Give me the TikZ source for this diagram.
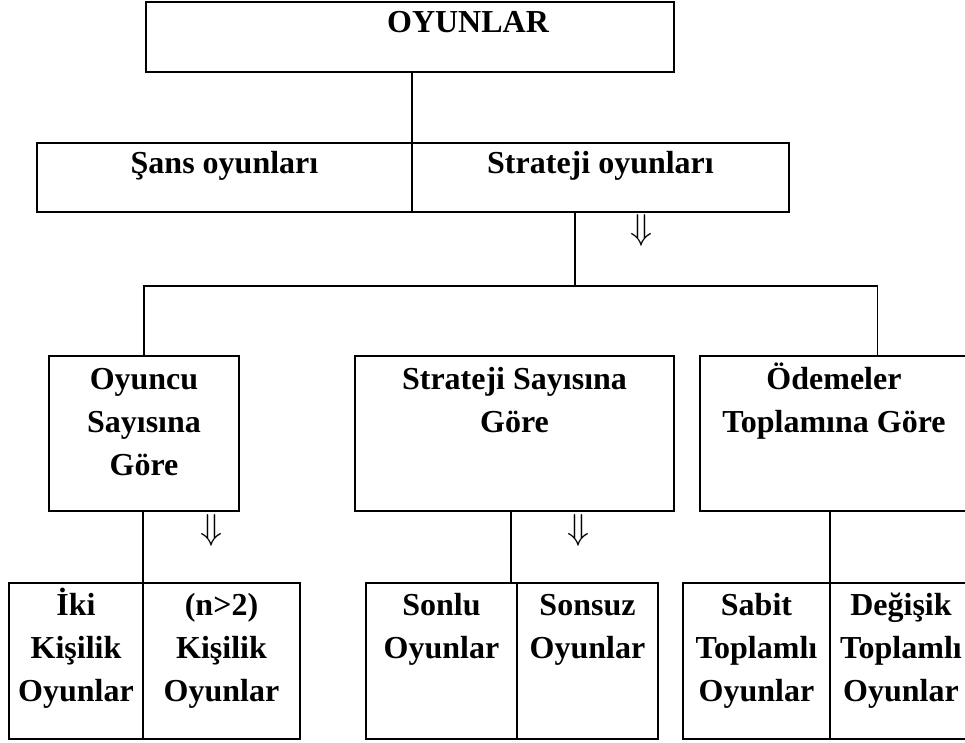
\documentclass[tikz,border=0pt]{standalone}
\usepackage{fontspec}
\setmainfont{Liberation Serif}
\usepackage{tikz}
\newcommand{\ilk}{\rule{0pt}{28pt}}
\newcommand{\asagi}{\resizebox*{!}{32pt}{$\Downarrow$}}

\begin{document}
\begin{tikzpicture}[x=1pt,y=-1pt,
  kutu/.style={draw,line width=2pt,inner sep=0pt,outer sep=0pt},
  yazi/.style={anchor=north,align=center,inner sep=0pt,
    font=\bfseries\fontsize{32}{43}\selectfont},
  ok/.style={inner sep=0pt},
  bag/.style={draw,line width=1.2pt}]
  \useasboundingbox (0,0) rectangle (965,743);
  \clip (0,0) rectangle (965,743);
  % kutular
  \node[kutu,minimum width=528pt,minimum height=70pt] (oyun) at (410,37) {};
  \node[kutu,minimum width=375pt,minimum height=69pt] (sans) at (224.5,177.5) {};
  \node[kutu,minimum width=377pt,minimum height=69pt] (strat) at (600.5,177.5) {};
  \node[kutu,minimum width=190pt,minimum height=155pt] (oyuncu) at (144,433.5) {};
  \node[kutu,minimum width=319pt,minimum height=155pt] (stsay) at (514.5,433.5) {};
  \node[kutu,minimum width=268pt,minimum height=155pt] (odeme) at (834,433.5) {};
  \node[kutu,minimum width=134pt,minimum height=156pt] (iki) at (76,661) {};
  \node[kutu,minimum width=157pt,minimum height=156pt] (nkisi) at (221.5,661) {};
  \node[kutu,minimum width=151pt,minimum height=156pt] (sonlu) at (441.5,661) {};
  \node[kutu,minimum width=141pt,minimum height=156pt] (sonsuz) at (587.5,661) {};
  \node[kutu,minimum width=147pt,minimum height=156pt] (sabit) at (756.5,661) {};
  \node[kutu,minimum width=142pt,minimum height=156pt] (degisik) at (901,661) {};
  % yazilar
  \node[yazi] (toyun) at (468,4) {\ilk OYUNLAR};
  \node[yazi] (tsans) at ([yshift=-2pt]sans.north) {\ilk Şans oyunları};
  \node[yazi] (tstrat) at ([yshift=-2pt]strat.north) {\ilk Strateji oyunları};
  \node[yazi] (toyuncu) at ([yshift=-5pt]oyuncu.north) {\ilk Oyuncu\\Sayısına\\Göre};
  \node[yazi] (tstsay) at ([yshift=-5pt]stsay.north) {\ilk Strateji Sayısına\\Göre};
  \node[yazi] (todeme) at ([yshift=-5pt]odeme.north) {\ilk Ödemeler\\Toplamına Göre};
  \node[yazi] (tiki) at ([yshift=-4pt]iki.north) {\ilk İki\\Kişilik\\Oyunlar};
  \node[yazi] (tnkisi) at ([yshift=-4pt]nkisi.north) {\ilk (n>2)\\Kişilik\\Oyunlar};
  \node[yazi] (tsonlu) at ([yshift=-4pt]sonlu.north) {\ilk Sonlu\\Oyunlar};
  \node[yazi] (tsonsuz) at ([yshift=-4pt]sonsuz.north) {\ilk Sonsuz\\Oyunlar};
  \node[yazi] (tsabit) at ([yshift=-4pt]sabit.north) {\ilk Sabit\\Toplamlı\\Oyunlar};
  \node[yazi] (tdegisik) at ([yshift=-4pt]degisik.north) {\ilk Değişik\\Toplamlı\\Oyunlar};
  % oklar
  \node[ok] (ok1) at (641,230) {\asagi};
  \node[ok] (ok2) at (211,530) {\asagi};
  \node[ok] (ok3) at (578,530) {\asagi};
  % baglantilar
  \coordinate (catal) at (575,286);
  \coordinate (catalR) at (877.5,286);
  \path[bag] (oyun.south -| sans.north east) -- (sans.north east);
  \path[bag] (strat.south -| catal) -- (catal);
  \path[bag] (oyuncu.north) |- (catalR) -- (catalR |- odeme.north);
  \path[bag] (oyuncu.south -| iki.north east) -- (iki.north east);
  \path[bag] ([xshift=-3.5pt]stsay.south) -- ([xshift=-3.5pt]stsay.south |- sonlu.north);
  \path[bag] (odeme.south -| sabit.north east) -- (sabit.north east);
\end{tikzpicture}
\end{document}
